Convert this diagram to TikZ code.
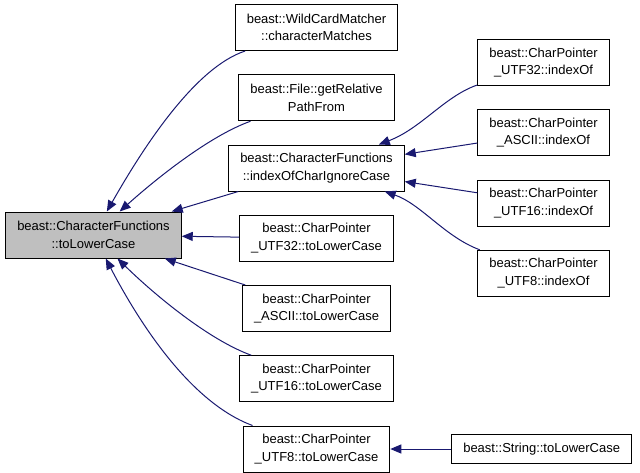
\documentclass[tikz,border=0pt]{standalone}
\usepackage{fontspec}
\setmainfont{Liberation Sans}
\usetikzlibrary{arrows.meta,positioning}
\definecolor{edgeblue}{HTML}{191970}
\definecolor{focusgray}{HTML}{BFBFBF}

\begin{document}
\begin{tikzpicture}[
    x=1pt, y=-1pt,
    node distance=23.25pt,
    every node/.style={font=\fontsize{13}{17.5}\selectfont},
    fn/.style={draw, line width=1pt, align=center, minimum height=46pt, inner xsep=11.5pt, inner ysep=2pt},
    focus/.style={fn, fill=focusgray},
    call/.style={-{Triangle[length=11pt,width=9pt]}, color=edgeblue, line width=1pt}
]
\useasboundingbox (0,0) rectangle (640,472);
% the documented function
\node[focus] (lower) at (93.5,235) {beast::CharacterFunctions\\::toLowerCase};
% direct callers
\node[fn] (wild) at (316.5,27.5) {beast::WildCardMatcher\\::characterMatches};
\node[fn, below=of wild] (relpath) {beast::File::getRelative\\PathFrom};
\node[fn, below=of relpath] (icase) {beast::CharacterFunctions\\::indexOfCharIgnoreCase};
\node[fn, below=of icase] (low32) {beast::CharPointer\\\_UTF32::toLowerCase};
\node[fn, below=of low32] (lowascii) {beast::CharPointer\\\_ASCII::toLowerCase};
\node[fn, below=of lowascii] (low16) {beast::CharPointer\\\_UTF16::toLowerCase};
\node[fn, below=of low16] (low8) {beast::CharPointer\\\_UTF8::toLowerCase};
% second level callers
\node[fn] (idx32) at (543.5,62.5) {beast::CharPointer\\\_UTF32::indexOf};
\node[fn, below=of idx32] (idxascii) {beast::CharPointer\\\_ASCII::indexOf};
\node[fn, below=of idxascii] (idx16) {beast::CharPointer\\\_UTF16::indexOf};
\node[fn, below=of idx16] (idx8) {beast::CharPointer\\\_UTF8::indexOf};
\node[fn, minimum height=29pt, right=61pt of low8] (strlower) {beast::String::toLowerCase};

\draw[call] (wild) .. controls (195,67.5) and (143.5,147) .. (lower);
\draw[call] (relpath) .. controls (209,136) and (154.75,180) .. (lower);
\draw[call] (icase) -- (lower);
\draw[call] (low32) -- (lower);
\draw[call] (lowascii) -- (lower);
\draw[call] (low16) .. controls (209,340) and (154.75,295) .. (lower);
\draw[call] (low8) .. controls (194,404) and (143.5,331) .. (lower);
\draw[call] (idx32) .. controls (445,96) and (421,128.6) .. (icase);
\draw[call] (idxascii) -- (icase);
\draw[call] (idx16) -- (icase);
\draw[call] (idx8) .. controls (445,237) and (421,204) .. (icase);
\draw[call] (strlower) -- (low8);
\end{tikzpicture}
\end{document}
